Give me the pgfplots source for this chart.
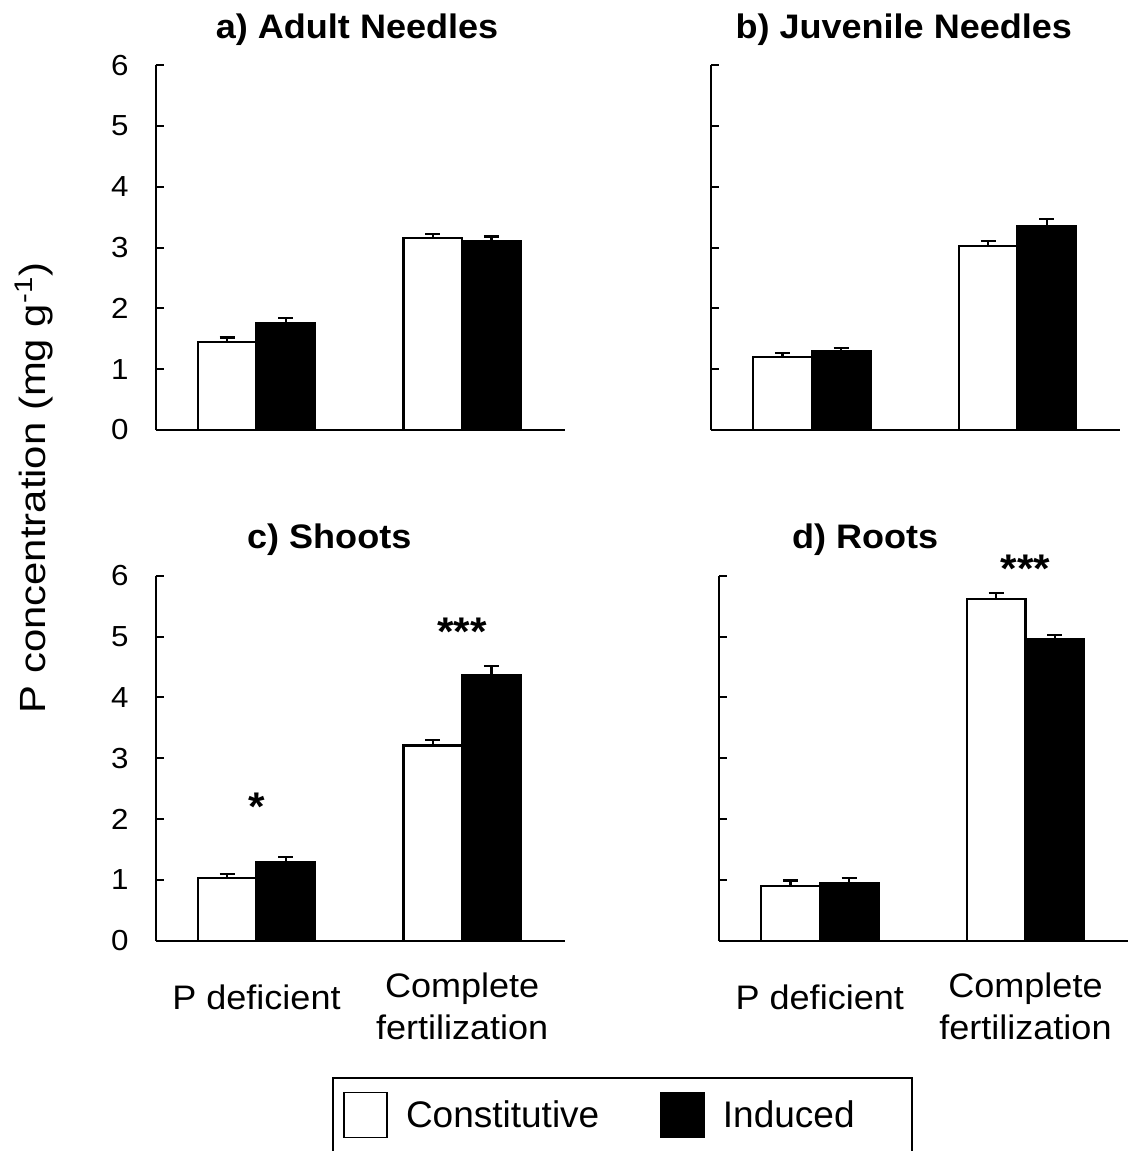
\documentclass[border=0pt]{standalone}
\usepackage{pgfplots}
\pgfplotsset{compat=1.18}
\usepackage{pgfplotstable}
\usepackage{fontspec}
\setmainfont{Liberation Sans}
\newfontfamily\wideA{Liberation Sans}[FakeStretch=1.06]
\newfontfamily\wideY{Liberation Sans}[FakeStretch=1.15]
\newfontfamily\wideT{Liberation Sans}[FakeStretch=1.08]

% x: 0 = P deficient, 1 = complete fertilization
% c/i = constitutive/induced mean, ce/ie = upper error
\pgfplotstableread{
x c ce i ie
0 1.45 0.07 1.75 0.09
1 3.15 0.07 3.10 0.08
}\adult
\pgfplotstableread{
x c ce i ie
0 1.20 0.06 1.29 0.06
1 3.02 0.09 3.35 0.12
}\juvenile
\pgfplotstableread{
x c ce i ie
0 1.03 0.07 1.30 0.08
1 3.21 0.09 4.37 0.14
}\shoots
\pgfplotstableread{
x c ce i ie
0 0.90 0.09 0.94 0.09
1 5.62 0.09 4.95 0.08
}\roots

\tikzset{sigstar/.style={font=\wideA\bfseries\fontsize{20}{22}\selectfont, anchor=base}}

\pgfplotsset{
  panel/.style={
    scale only axis, width=204.65pt, height=182.5pt,
    anchor=south west,
    xmin=-0.49, xmax=1.5, ymin=0, ymax=6,
    axis x line*=bottom, axis y line*=left,
    axis line style={line width=1pt},
    ytick={0,...,6}, tick align=inside, major tick length=4pt,
    major tick style={line width=1pt, black},
    xtick style={draw=none},
    xtick=\empty,
    /pgf/number format/assume math mode=true,
    yticklabel style={font=\wideT\fontsize{14.5}{16}\selectfont, xshift=-10pt},
    ybar=0pt, bar width=0.285,
    title style={font=\wideA\bfseries\fontsize{17}{20}\selectfont, anchor=base, yshift=7.5pt},
    clip=false,
  },
  nolabels/.style={yticklabels={}},
  bottomrow/.style={
    xtick={0,1},
    xticklabels={\raisebox{9pt}{P deficient},{Complete\\fertilization}},
    xticklabel style={font=\wideA\fontsize{17}{20.8}\selectfont, align=center, anchor=center, yshift=-28.8pt},
  },
  cons/.style={fill=white, draw=black, line width=1.1pt, bar shift=-0.1425,
    error bars/.cd, y dir=plus, y explicit,
    error bar style={line width=1.1pt, black},
    error mark options={rotate=90, line width=1.1pt, mark size=3.75pt, black}},
  ind/.style={fill=black, draw=black, line width=1.1pt, bar shift=0.1425,
    error bars/.cd, y dir=plus, y explicit,
    error bar style={line width=1.1pt, black},
    error mark options={rotate=90, line width=1.1pt, mark size=3.75pt, black}},
}

\begin{document}
\begin{tikzpicture}

% a) adult needles
\begin{axis}[panel, at={(77.85pt,-215pt)},
  title={a) Adult Needles}, title style={at={(axis description cs:0.492,1)}}]
\addplot[cons] table[x=x, y=c, y error=ce] {\adult};
\addplot[ind] table[x=x, y=i, y error=ie] {\adult};
\end{axis}

% b) juvenile needles
\begin{axis}[panel, nolabels, at={(355.5pt,-215pt)},
  title={b) Juvenile Needles}, title style={at={(axis description cs:0.471,1)}}]
\addplot[cons] table[x=x, y=c, y error=ce] {\juvenile};
\addplot[ind] table[x=x, y=i, y error=ie] {\juvenile};
\end{axis}

% c) shoots
\begin{axis}[panel, bottomrow, at={(77.85pt,-470.35pt)},
  title={c) Shoots}, title style={at={(axis description cs:0.424,1)}},
  legend columns=2, legend cell align=left,
  legend style={at={(axis description cs:0.443,-0.478)}, anchor=west,
    draw=none, fill=none, font=\fontsize{18.5}{21}\selectfont,
    /tikz/every odd column/.append style={column sep=7pt},
    /tikz/every even column/.append style={column sep=28.5pt}},
  legend image code/.code={\draw[#1, line width=0.8pt] (0pt,-11.25pt) rectangle (21.5pt,11.25pt);}]
\addplot[cons] table[x=x, y=c, y error=ce] {\shoots};
\addplot[ind] table[x=x, y=i, y error=ie] {\shoots};
\legend{Constitutive, Induced}
\node[sigstar] at (axis cs:0,1.98) {*};
\node[sigstar] at (axis cs:1,4.85) {***};
\end{axis}

% d) roots
\begin{axis}[panel, nolabels, bottomrow, at={(359.5pt,-470.35pt)},
  title={d) Roots}, title style={at={(axis description cs:0.357,1)}}]
\addplot[cons] table[x=x, y=c, y error=ce] {\roots};
\addplot[ind] table[x=x, y=i, y error=ie] {\roots};
\node[sigstar] at (axis cs:1,5.89) {***};
\end{axis}

% shared y label and legend frame
\node[rotate=90, anchor=base, font=\wideY\fontsize{18.2}{21}\selectfont] at (22.5pt,-244pt)
  {P concentration (mg g\textsuperscript{-1})};
\draw[line width=0.7pt] (166.5pt,-539pt) rectangle (456pt,-600pt);

\pgfresetboundingbox
\path[use as bounding box] (0,0) rectangle (570pt,-575.5pt);
\end{tikzpicture}
\end{document}
